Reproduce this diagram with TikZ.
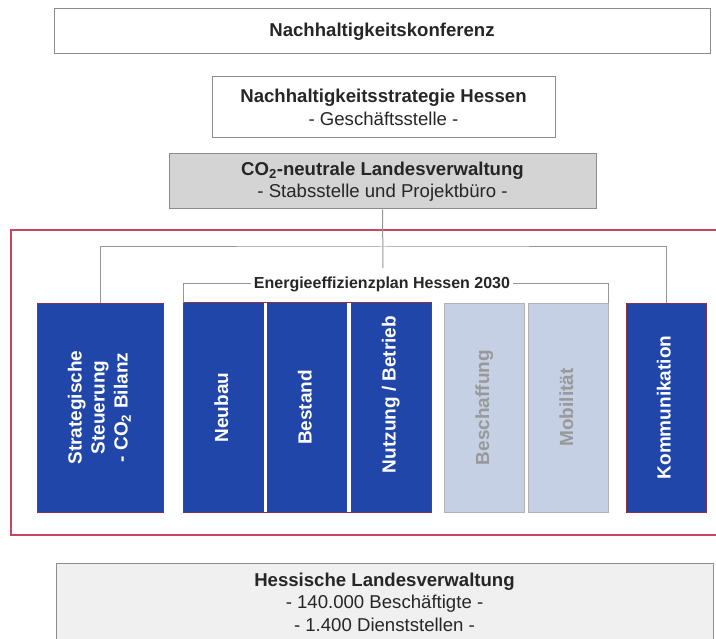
\documentclass[tikz,border=0pt]{standalone}
\usepackage{fontspec}
\setmainfont{Liberation Sans}
\definecolor{hblau}{RGB}{32,70,170}
\definecolor{hhell}{RGB}{198,208,229}
\definecolor{hgrau}{RGB}{212,212,212}
\definecolor{hrot}{RGB}{200,70,95}
\definecolor{hlinie}{RGB}{150,150,150}
\newcommand{\saeule}[1]{\rotatebox{90}{\begin{tabular}{@{}c@{}}#1\end{tabular}}}
\tikzset{
  box/.style={draw=black!45, line width=1pt, fill=white, align=center, text=black!85,
    font=\fontsize{18.6}{22.5}\selectfont},
  pfeiler/.style={minimum width=80pt, minimum height=209pt, inner sep=0pt,
    font=\fontsize{19}{23}\selectfont\bfseries},
  aktiv/.style={pfeiler, fill=hblau, text=white, draw=hrot!70!black, line width=0.6pt},
  passiv/.style={pfeiler, fill=hhell, text=black!40, draw=black!30, line width=0.6pt},
  conn/.style={draw=hlinie, line width=1pt},
  rahmen/.style={draw=hrot, line width=1.5pt}
}
\begin{document}
\begin{tikzpicture}[x=1pt,y=-1pt]
  \useasboundingbox (0,0) rectangle (716,639);
  \draw[rahmen] (11,230) rectangle (724,535);

  \node[box, minimum width=656pt, minimum height=45pt] (konf) at (382,31.5)
    {\bfseries Nachhaltigkeitskonferenz};
  \node[box, minimum width=343pt, minimum height=61pt] (nhs) at (383.5,107.5)
    {\textbf{Nachhaltigkeitsstrategie Hessen}\\- Geschäftsstelle -};
  \node[box, fill=hgrau, minimum width=427pt, minimum height=55pt] (co2) at (382.5,181.5)
    {\textbf{CO\textsubscript{2}-neutrale Landesverwaltung}\\- Stabsstelle und Projektbüro -};

  \node[aktiv, minimum width=126pt] (steuer) at (100,407.5)
    {\saeule{Strategische\\Steuerung\\- CO\textsubscript{2} Bilanz}};
  \node[aktiv, draw=none] (neubau) at (223.5,407.5) {\saeule{Neubau}};
  \node[aktiv, draw=none] (bestand) at (307,407.5) {\saeule{Bestand}};
  \node[aktiv, draw=none] (nutzung) at (391,407.5) {\saeule{\hspace*{26pt}Nutzung / Betrieb}};
  \draw[draw=hrot!70!black, line width=0.6pt] (neubau.north west) rectangle (nutzung.south east);
  \node[passiv] (beschaffung) at (484.5,407.5) {\saeule{Beschaffung}};
  \node[passiv] (mobil) at (568.5,407.5) {\saeule{Mobilität}};
  \node[aktiv] (komm) at (666,407.5) {\saeule{Kommunikation}};

  \coordinate (stem) at (383,268);
  \coordinate (bar) at (383,247);
  \draw[conn] (co2.south) -- (stem);
  \draw[conn] (steuer.north) |- (bar) -| (komm.north);
  \node[font=\fontsize{16}{16}\selectfont\bfseries, text=black!85, inner sep=3pt] (eep) at (382,284)
    {Energieeffizienzplan Hessen 2030};
  \draw[conn] (eep.west) -| (neubau.north west);
  \draw[conn] (eep.east) -| (mobil.north east);

  \node[box, fill=black!6, minimum width=657pt, minimum height=78pt] (hlv) at (384.5,602)
    {\textbf{Hessische Landesverwaltung}\\- 140.000 Beschäftigte -\\- 1.400 Dienststellen -};
\end{tikzpicture}
\end{document}
